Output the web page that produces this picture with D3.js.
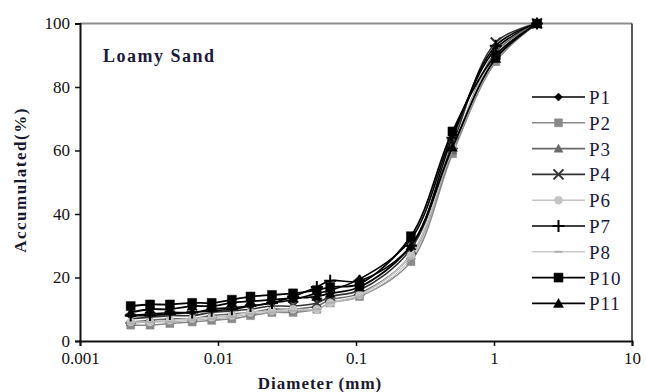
<!DOCTYPE html>
<html>
<head>
<meta charset="utf-8">
<script src="https://cdn.jsdelivr.net/npm/d3@7"></script>
<style>
  body { margin: 0; background: #fff; }
  svg text { font-family: 'Liberation Serif', 'Times New Roman', serif; }
</style>
</head>
<body>
<svg id="chart"></svg>
<script>
// Particle diameters (mm) shared by every sample
const diameters = [0.00233, 0.00322, 0.00448, 0.0065, 0.009, 0.0126, 0.0172, 0.0246, 0.035, 0.052, 0.065, 0.106, 0.25, 0.5, 1.03, 2.05];

// Accumulated percentage for each sample
const p1 = [8, 8.5, 9, 9, 10, 10.5, 11, 12, 13, 15, 16, 19.5, 32, 65, 92, 100];
const p2 = [5, 5, 5.5, 6, 6.5, 7, 8, 9, 9, 10, 12, 14, 25, 59, 88, 100];
const p3 = [6, 6.5, 7, 7, 8, 8.5, 9, 10, 10, 11, 13, 15, 27, 60, 91, 100];
const p4 = [7, 7.5, 8, 8, 9, 9.5, 10, 11, 11, 12, 14, 16, 29, 62, 94, 100];
const p6 = [6, 6, 6.5, 7, 7.5, 8, 9, 9.5, 10, 10, 12, 14.5, 27, 61, 90, 100];
const p7 = [8, 8, 8.5, 9, 9.5, 10, 11, 12, 14, 17, 19, 19, 30, 64, 93, 100];
const p8 = [5.5, 6, 6, 6.5, 7, 7.5, 8.5, 9, 9.5, 10, 12, 14, 26, 60, 89, 100];
const p10 = [11, 11.5, 11.5, 12, 12, 13, 14, 14.5, 15, 16, 17, 18, 33, 66, 90, 100];
const p11 = [9, 10, 10, 11, 11, 12, 12.5, 13, 13.5, 14, 15, 17, 30, 61, 89, 100];

const seriesNames = ['P1', 'P2', 'P3', 'P4', 'P6', 'P7', 'P8', 'P10', 'P11'];
const seriesValues = [p1, p2, p3, p4, p6, p7, p8, p10, p11];

const xTicks = [0.001, 0.01, 0.1, 1, 10];
const xTickLabels = ['0.001', '0.01', '0.1', '1', '10'];
const yTicks = [0, 20, 40, 60, 80, 100];

// Look of each sample
const styles = {
  P1: { color: '#000', marker: 'diamond', size: 4, width: 1.6 },
  P2: { color: '#8a8a8a', marker: 'square', size: 4, width: 1.6 },
  P3: { color: '#6a6a6a', marker: 'triangle', size: 4.5, width: 1.6 },
  P4: { color: '#333', marker: 'x', size: 5, width: 1.6 },
  P6: { color: '#c4c4c4', marker: 'circle', size: 4, width: 1.6 },
  P7: { color: '#000', marker: 'plus', size: 6, width: 1.6 },
  P8: { color: '#b0b0b0', marker: 'dash', size: 4, width: 1 },
  P10: { color: '#000', marker: 'square', size: 4.5, width: 1.8 },
  P11: { color: '#000', marker: 'triangle', size: 5, width: 1.8 },
};

//Set up svg
const width = 646;
const height = 392;
const margin = { top: 23.5, right: 14, bottom: 51, left: 80 };

const svg = d3.select('#chart').attr('width', width).attr('height', height);

const xScale = d3
  .scaleLog()
  .domain([0.001, 10])
  .range([margin.left, width - margin.right]);

const yScale = d3
  .scaleLinear()
  .domain([0, 100])
  .range([height - margin.bottom, margin.top]);

const markerPath = (type, s) => {
  switch (type) {
    case 'diamond':
      return `M0,${-s}L${s},0L0,${s}L${-s},0Z`;
    case 'square':
      return `M${-s},${-s}H${s}V${s}H${-s}Z`;
    case 'triangle':
      return `M0,${-s}L${s},${s * 0.8}L${-s},${s * 0.8}Z`;
    case 'x':
      return `M${-s},${-s}L${s},${s}M${-s},${s}L${s},${-s}`;
    case 'plus':
      return `M${-s},0H${s}M0,${-s}V${s}`;
    case 'dash':
      return `M${-s},0H${s}`;
    case 'circle':
      return `M${s},0A${s},${s} 0 1,1 ${-s},0A${s},${s} 0 1,1 ${s},0Z`;
  }
};
const isStroked = (type) => type === 'x' || type === 'plus' || type === 'dash';

//Plot box: grey top line and right border
svg
  .append('line')
  .attr('x1', margin.left)
  .attr('x2', width - margin.right)
  .attr('y1', margin.top)
  .attr('y2', margin.top)
  .attr('stroke', '#8c8c8c')
  .attr('stroke-width', 2);

svg
  .append('line')
  .attr('x1', width - margin.right)
  .attr('x2', width - margin.right)
  .attr('y1', margin.top)
  .attr('y2', height - margin.bottom)
  .attr('stroke', '#222')
  .attr('stroke-width', 1.5);

//Lines for each sample (smoothed like the spreadsheet)
const line = d3
  .line()
  .x((d) => xScale(d[0]))
  .y((d) => yScale(d[1]))
  .curve(d3.curveCatmullRom);

seriesNames.forEach((name, i) => {
  const st = styles[name];
  const points = diameters.map((d, j) => [d, seriesValues[i][j]]);

  svg
    .append('path')
    .datum(points)
    .attr('fill', 'none')
    .attr('stroke', st.color)
    .attr('stroke-width', st.width)
    .attr('d', line);

  svg
    .selectAll(`.marker-${name}`)
    .data(points)
    .enter()
    .append('path')
    .attr('class', `marker-${name}`)
    .attr('transform', (d) => `translate(${xScale(d[0])},${yScale(d[1])})`)
    .attr('d', markerPath(st.marker, st.size))
    .attr('fill', isStroked(st.marker) ? 'none' : st.color)
    .attr('stroke', st.color)
    .attr('stroke-width', isStroked(st.marker) ? 2 : 0.5);
});

//Axes
const xAxis = d3
  .axisBottom(xScale)
  .tickValues(xTicks)
  .tickFormat((d, i) => xTickLabels[i])
  .tickSize(5)
  .tickPadding(6);

const yAxis = d3.axisLeft(yScale).tickValues(yTicks).tickSize(5).tickPadding(5);

const gx = svg
  .append('g')
  .attr('transform', `translate(0, ${height - margin.bottom})`)
  .call(xAxis);

const gy = svg
  .append('g')
  .attr('transform', `translate(${margin.left},0)`)
  .call(yAxis);

[gx, gy].forEach((g) => {
  g.select('.domain').attr('stroke', '#111').attr('stroke-width', 2);
  g.selectAll('.tick line').attr('stroke', '#111').attr('stroke-width', 1.5);
  g.selectAll('.tick text')
    .attr('fill', '#111')
    .style('font-size', '17px')
    .style('font-family', "'Liberation Serif', serif");
});

//Axis titles
svg
  .append('text')
  .attr('x', 320)
  .attr('y', 389)
  .attr('text-anchor', 'middle')
  .attr('font-size', '17px')
  .attr('font-weight', 'bold')
  .attr('letter-spacing', '1px')
  .attr('fill', '#1a1a2e')
  .text('Diameter (mm)');

svg
  .append('text')
  .attr('transform', 'translate(26, 180) rotate(-90)')
  .attr('text-anchor', 'middle')
  .attr('font-size', '17px')
  .attr('font-weight', 'bold')
  .attr('letter-spacing', '1.5px')
  .attr('fill', '#1a1a2e')
  .text('Accumulated(%)');

//Soil class label
svg
  .append('text')
  .attr('x', 103)
  .attr('y', 62)
  .attr('font-size', '18px')
  .attr('font-weight', 'bold')
  .attr('letter-spacing', '1.5px')
  .attr('fill', '#1a1a3a')
  .text('Loamy Sand');

//Legend
const legend = svg
  .append('g')
  .selectAll('g')
  .data(seriesNames)
  .enter()
  .append('g')
  .attr('transform', (d, i) => `translate(532, ${97 + i * 25.8})`);

legend
  .append('line')
  .attr('x1', 0)
  .attr('x2', 53)
  .attr('stroke', (d) => styles[d].color)
  .attr('stroke-width', (d) => styles[d].width);

legend
  .append('path')
  .attr('transform', 'translate(26.5,0)')
  .attr('d', (d) => markerPath(styles[d].marker, styles[d].size))
  .attr('fill', (d) => (isStroked(styles[d].marker) ? 'none' : styles[d].color))
  .attr('stroke', (d) => styles[d].color)
  .attr('stroke-width', (d) => (isStroked(styles[d].marker) ? 2 : 0.5));

legend
  .append('text')
  .attr('x', 57)
  .attr('y', 7)
  .attr('font-size', '19px')
  .attr('letter-spacing', '1px')
  .attr('fill', '#1a1a3a')
  .text((d) => d);
</script>
</body>
</html>
